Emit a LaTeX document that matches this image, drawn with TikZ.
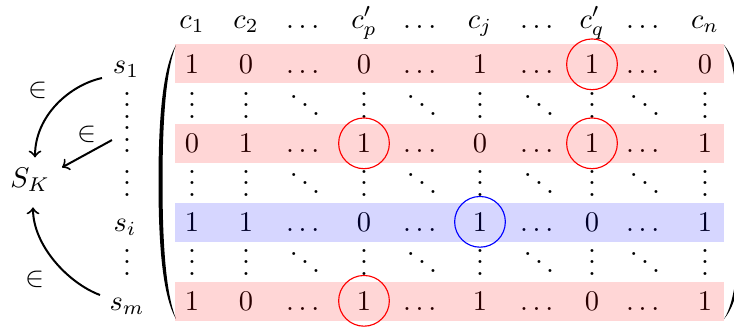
\documentclass[tikz,border=0pt]{standalone}
\usepackage{amsmath}
\newcommand\mrow[3]{%
  \foreach [count=\c] \e in {#3} {%
    \pgfmathsetmacro\xx{{192,246,305,364,422,480,539,592,645,705}[\c-1]}%
    \node[ent] (#1-\c) at (\xx,#2) {$\e$};}}
\begin{document}
\begin{tikzpicture}[x=0.351pt, y=-0.351pt,
  ent/.style={anchor=base, inner sep=0pt},
  lab/.style={anchor=base, inner sep=2pt},
  hlr/.style={circle, draw=red, minimum size=17.8pt, inner sep=0pt},
  hlb/.style={circle, draw=blue, minimum size=17.8pt, inner sep=0pt},
  arr/.style={->, line width=0.7pt},
  bandr/.style={fill=red, fill opacity=0.16},
  bandb/.style={fill=blue, fill opacity=0.16}]
\useasboundingbox (0,0) rectangle (734,326);
% column headers
\mrow{h}{28}{c_1,c_2,\dots,c'_p,\dots,c_j,\dots,c'_q,\dots,c_n}
% matrix rows
\mrow{r1}{73.5}{1,0,\dots,0,\dots,1,\dots,1,\dots,0}
\mrow{r2}{118}{\vdots,\vdots,\ddots,\vdots,\ddots,\vdots,\ddots,\vdots,\ddots,\vdots}
\mrow{r3}{152.5}{0,1,\dots,1,\dots,0,\dots,1,\dots,1}
\mrow{r4}{196}{\vdots,\vdots,\ddots,\vdots,\ddots,\vdots,\ddots,\vdots,\ddots,\vdots}
\mrow{r5}{231}{1,1,\dots,0,\dots,1,\dots,0,\dots,1}
\mrow{r6}{275}{\vdots,\vdots,\ddots,\vdots,\ddots,\vdots,\ddots,\vdots,\ddots,\vdots}
\mrow{r7}{310}{1,0,\dots,1,\dots,1,\dots,0,\dots,1}
% delimiters
\fill (176,45) .. controls (163,68) and (158.5,115) .. (158.5,182)
  .. controls (158.5,249) and (163,296) .. (176,319)
  .. controls (166.5,295) and (162.5,249) .. (162.5,182)
  .. controls (162.5,115) and (166.5,69) .. (176,45) -- cycle;
\fill (724,45) .. controls (739,62) and (744,100) .. (744,182)
  .. controls (744,264) and (739,302) .. (724,319)
  .. controls (735,302) and (740,264) .. (740,182)
  .. controls (740,100) and (735,62) .. (724,45) -- cycle;
% highlighted rows
\fill[bandr] (175,44) rectangle (724,83);
\fill[bandr] (175,124) rectangle (724,163);
\fill[bandb] (175,203) rectangle (724,242);
\fill[bandr] (175,282) rectangle (724,321);
% circles
\node[hlr] (o1) at (r1-8.center) {};
\node[hlr] (o2) at (r3-4.center) {};
\node[hlr] (o3) at (r3-8.center) {};
\node[hlb] (o4) at (r5-6.center) {};
\node[hlr] (o5) at (r7-4.center) {};
% row labels
\node[lab] (s1) at (126,73.5) {$s_1$};
\node[lab] (l2) at (127,118) {$\vdots$};
\node[lab] (l3) at (127,152.5) {$\vdots$};
\node[lab] (l4) at (127,196) {$\vdots$};
\node[lab] (si) at (125,231) {$s_i$};
\node[lab] (l6) at (127,275) {$\vdots$};
\node[lab] (sm) at (127,310) {$s_m$};
% set
\node[lab] (SK) at (30,187) {$S_K$};
% arrows
\draw[arr] ([shift={(-24,8.5)}]s1.center) .. controls +(-32,7) and +(0,-42) .. ([shift={(5,-22)}]SK.center);
\draw[arr] ([shift={(-15,9)}]l3.center) -- ([shift={(32,-12)}]SK.center);
\draw[arr] ([shift={(-27,-11)}]sm.center) .. controls +(-32,-12) and +(0,38) .. ([shift={(3,28)}]SK.center);
% labels
\node (e1) at (38,90) {$\in$};
\node (e2) at (87,134) {$\in$};
\node (e3) at (35,279) {$\in$};
\end{tikzpicture}
\end{document}
